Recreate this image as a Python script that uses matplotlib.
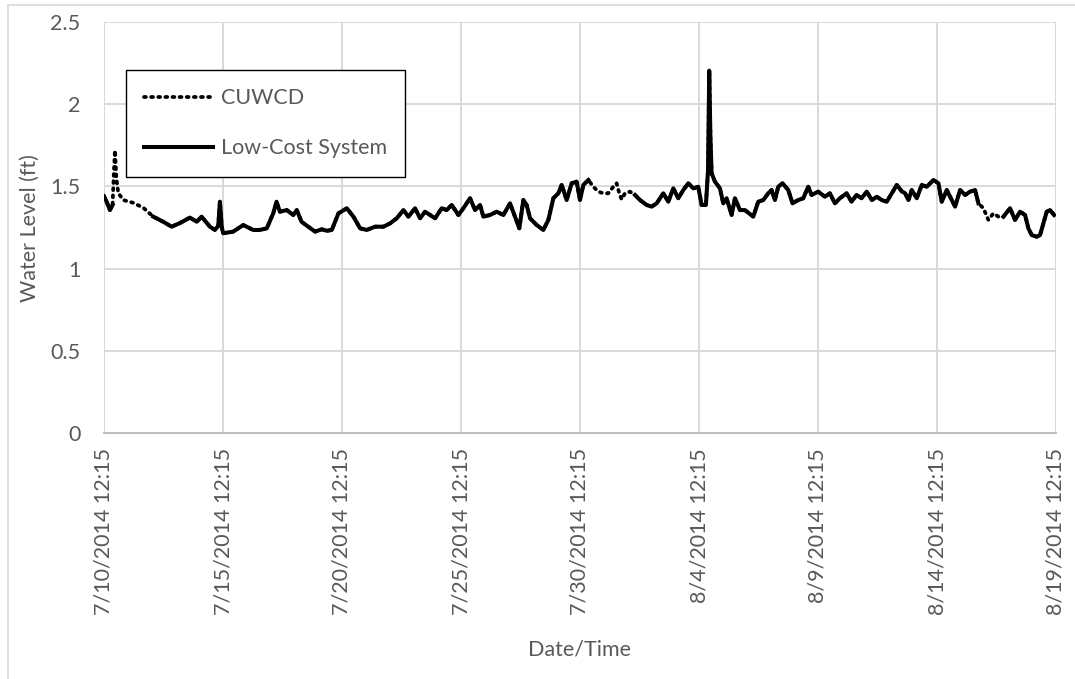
import numpy as np
import pandas as pd
import matplotlib
matplotlib.use("Agg")
import matplotlib.pyplot as plt
from matplotlib.lines import Line2D

# Data (days after 7/10/2014 12:15, water level in ft)
start_time = "2014-07-10 12:15"
days = [
    0.00, 0.10, 0.25, 0.36, 0.42, 0.46, 0.52, 0.60, 0.81, 1.23, 1.65, 2.07, 2.49, 2.84,
    3.19, 3.61, 3.90, 4.10, 4.45, 4.66, 4.80, 4.87, 4.95, 5.01, 5.43, 5.85, 6.27, 6.55,
    6.84, 7.11, 7.25, 7.39, 7.68, 7.95, 8.10, 8.30, 8.58, 8.87, 9.15, 9.36, 9.57, 9.85,
    10.20, 10.48, 10.76, 11.04, 11.39, 11.74, 12.02, 12.30, 12.58, 12.79, 13.07, 13.28,
    13.49, 13.70, 13.91, 14.19, 14.40, 14.61, 14.89, 15.10, 15.38, 15.59, 15.80, 15.94,
    16.22, 16.50, 16.78, 17.06, 17.27, 17.45, 17.62, 17.76, 17.90, 18.18, 18.46, 18.67,
    18.88, 19.09, 19.23, 19.44, 19.65, 19.86, 20.00, 20.14, 20.35, 20.56, 20.77, 20.98,
    21.19, 21.40, 21.54, 21.65, 21.75, 21.89, 22.10, 22.31, 22.52, 22.80, 23.01, 23.22,
    23.50, 23.71, 23.92, 24.13, 24.34, 24.55, 24.76, 24.97, 25.11, 25.29, 25.38, 25.43,
    25.48, 25.53, 25.67, 25.88, 26.02, 26.16, 26.37, 26.51, 26.72, 26.93, 27.28, 27.49,
    27.70, 27.91, 28.05, 28.19, 28.33, 28.51, 28.75, 28.93, 29.17, 29.38, 29.59, 29.73,
    30.01, 30.29, 30.50, 30.71, 30.92, 31.20, 31.41, 31.62, 31.83, 32.05, 32.26, 32.47,
    32.68, 32.89, 33.10, 33.31, 33.52, 33.66, 33.80, 33.94, 34.15, 34.36, 34.57, 34.85,
    35.06, 35.20, 35.41, 35.62, 35.76, 35.97, 36.18, 36.39, 36.60, 36.74, 36.95, 37.16,
    37.37, 37.58, 37.79, 38.07, 38.28, 38.49, 38.70, 38.84, 38.98, 39.19, 39.33, 39.47,
    39.61, 39.75, 39.92,
]
cuwcd_level = [
    1.44, 1.41, 1.356, 1.387, 1.60, 1.72, 1.55, 1.46, 1.417, 1.40, 1.37, 1.316, 1.285, 1.255,
    1.277, 1.31, 1.285, 1.316, 1.255, 1.235, 1.26, 1.407, 1.25, 1.215, 1.225, 1.265, 1.235, 1.235,
    1.245, 1.336, 1.407, 1.346, 1.356, 1.326, 1.356, 1.285, 1.255, 1.225, 1.239, 1.23, 1.235, 1.336,
    1.367, 1.316, 1.245, 1.235, 1.255, 1.255, 1.275, 1.306, 1.356, 1.316, 1.367, 1.306,
    1.346, 1.326, 1.306, 1.367, 1.356, 1.387, 1.326, 1.367, 1.428, 1.356, 1.387, 1.316,
    1.326, 1.346, 1.326, 1.397, 1.316, 1.245, 1.417, 1.387, 1.306, 1.265, 1.235, 1.296,
    1.428, 1.458, 1.509, 1.417, 1.519, 1.529, 1.417, 1.509, 1.539, 1.498, 1.468, 1.458,
    1.458, 1.498, 1.519, 1.458, 1.421, 1.458, 1.468, 1.448, 1.417, 1.387, 1.377, 1.397,
    1.458, 1.407, 1.488, 1.428, 1.478, 1.519, 1.488, 1.498, 1.387, 1.387, 1.60, 2.204,
    1.80, 1.58, 1.529, 1.488, 1.397, 1.428, 1.326, 1.428, 1.356, 1.356, 1.316, 1.407,
    1.417, 1.458, 1.478, 1.417, 1.498, 1.519, 1.478, 1.397, 1.417, 1.428, 1.498, 1.448,
    1.468, 1.437, 1.458, 1.397, 1.428, 1.458, 1.407, 1.448, 1.428, 1.468, 1.417, 1.437,
    1.417, 1.407, 1.458, 1.509, 1.47, 1.458, 1.417, 1.478, 1.428, 1.509, 1.498, 1.539,
    1.519, 1.407, 1.478, 1.417, 1.377, 1.478, 1.448, 1.468, 1.478, 1.397, 1.367, 1.296,
    1.336, 1.316, 1.316, 1.367, 1.296, 1.346, 1.326, 1.245, 1.204, 1.194, 1.204, 1.275,
    1.346, 1.356, 1.326,
]
# periods (days) with no low-cost system record
lowcost_gaps = [(0.38, 2.0), (20.4, 22.25), (36.8, 37.7)]

tick_days = [0, 5, 10, 15, 20, 25, 30, 35, 40]
tick_labels = ["7/10/2014 12:15", "7/15/2014 12:15", "7/20/2014 12:15", "7/25/2014 12:15",
               "7/30/2014 12:15", "8/4/2014 12:15", "8/9/2014 12:15", "8/14/2014 12:15",
               "8/19/2014 12:15"]
y_ticks = [0, 0.5, 1, 1.5, 2, 2.5]
y_labels = ["0", "0.5", "1", "1.5", "2", "2.5"]

plt.rcParams['font.family'] = ['Lato', 'DejaVu Sans']
text_gray = "#595959"
grid_gray = "#d9d9d9"
fs = 15.5

t0 = pd.Timestamp(start_time)
times = t0 + pd.to_timedelta(days, unit="D")
cuwcd = np.array(cuwcd_level, dtype=float)
lowcost = cuwcd.copy()
d = np.array(days)
for a, b in lowcost_gaps:
    lowcost[(d > a) & (d < b)] = np.nan

fig = plt.figure(figsize=(10.75, 6.79), dpi=100)
ax = fig.add_axes([104 / 1075, 1 - 433 / 679, (1056 - 104) / 1075, (433 - 22) / 679])

dot_style = (0, (0.5, 1.4))
ax.plot(times, cuwcd, color="black", lw=2.7, ls=dot_style, dash_capstyle="round",
        label="CUWCD", zorder=3)
ax.plot(times, lowcost, color="black", lw=2.9, solid_joinstyle="round", label="Low-Cost System",
        zorder=4)

ax.set_xlim(t0, t0 + pd.Timedelta(days=40))
ax.set_ylim(0, 2.5)
ax.set_xticks(t0 + pd.to_timedelta(tick_days, unit="D"))
ax.set_xticklabels(tick_labels, rotation=90, color=text_gray, fontsize=fs)
ax.set_yticks(y_ticks)
ax.set_yticklabels(y_labels, color=text_gray, fontsize=fs)
ax.tick_params(axis="both", length=0)
ax.tick_params(axis="x", pad=11)
ax.tick_params(axis="y", pad=17)

ax.grid(True, color=grid_gray, lw=1.4)
ax.set_axisbelow(True)
for side in ["top", "right", "left"]:
    ax.spines[side].set_visible(False)
ax.spines["bottom"].set_color("#bfbfbf")
ax.spines["bottom"].set_linewidth(1.4)

fig.text(30 / 1075, 1 - 228 / 679, "Water Level (ft)", rotation=90, ha="center", va="center",
         color=text_gray, fontsize=fs)
fig.text(580 / 1075, 1 - 650 / 679, "Date/Time", ha="center", va="center",
         color=text_gray, fontsize=fs)

# legend box like the Excel one
handles = [Line2D([], [], color="black", lw=2.7, ls=dot_style, dash_capstyle="round"),
           Line2D([], [], color="black", lw=2.9)]
leg = ax.legend(handles, ["CUWCD", "Low-Cost System"], loc="upper left",
                bbox_to_anchor=((126 - 104) / 952, (433 - 70) / 411), fancybox=False,
                edgecolor="black", framealpha=1, fontsize=fs, labelspacing=1.4,
                handlelength=3.2, handletextpad=0.35, borderpad=0.85, borderaxespad=0)
leg.get_frame().set_linewidth(1.0)
for txt in leg.get_texts():
    txt.set_color(text_gray)

# chart area border (left and top edges visible)
fig.add_artist(Line2D([7.5 / 1075, 7.5 / 1075], [0, 1 - 5 / 679], color=grid_gray, lw=1.2))
fig.add_artist(Line2D([7.5 / 1075, 1], [1 - 5 / 679, 1 - 5 / 679], color=grid_gray, lw=1.2))

fig.savefig("out.png", dpi=100)
